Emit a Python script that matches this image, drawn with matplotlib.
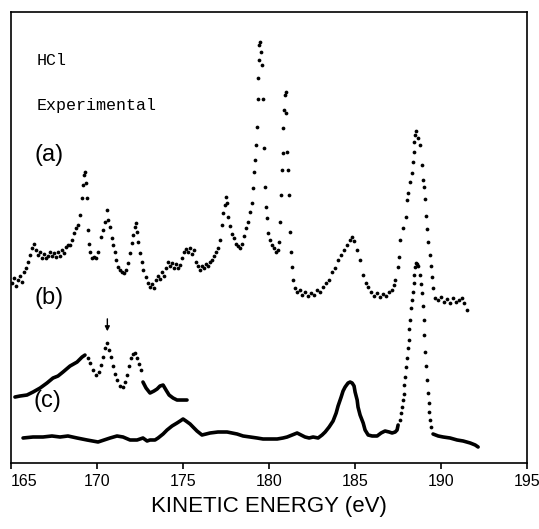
import matplotlib
matplotlib.use("Agg")
import matplotlib.pyplot as plt
import numpy as np

# ---- data (kinetic energy in eV, intensity in arbitrary units) ----
# (a) experimental, plotted as dots
a_energy = [165.06, 165.17, 165.29, 165.41, 165.52, 165.64, 165.76, 165.87, 165.99, 166.10,
            166.22, 166.34, 166.45, 166.57, 166.69, 166.80, 166.92, 167.03, 167.15, 167.27,
            167.38, 167.50, 167.62, 167.73, 167.85, 167.97, 168.08, 168.20, 168.31, 168.43,
            168.55, 168.66, 168.78, 168.90, 169.01, 169.13, 169.19, 169.24, 169.30, 169.36,
            169.42, 169.48, 169.53, 169.59, 169.71, 169.83, 169.94, 170.06, 170.23, 170.35,
            170.47, 170.58, 170.64, 170.76, 170.87, 170.93, 171.05, 171.10, 171.22, 171.34,
            171.45, 171.57, 171.69, 171.80, 171.92, 172.03, 172.09, 172.21, 172.27, 172.33,
            172.38, 172.50, 172.62, 172.67, 172.85, 172.97, 173.08, 173.20, 173.31, 173.43,
            173.55, 173.66, 173.78, 173.90, 174.01, 174.13, 174.24, 174.36, 174.48, 174.59,
            174.71, 174.83, 174.94, 175.06, 175.17, 175.29, 175.41, 175.52, 175.64, 175.76,
            175.87, 175.99, 176.10, 176.22, 176.34, 176.45, 176.57, 176.69, 176.80, 176.92,
            177.03, 177.15, 177.27, 177.33, 177.44, 177.50, 177.56, 177.62, 177.73, 177.85,
            177.97, 178.08, 178.20, 178.31, 178.43, 178.55, 178.66, 178.78, 178.90, 179.01,
            179.07, 179.13, 179.19, 179.24, 179.30, 179.33, 179.36, 179.39, 179.42, 179.45,
            179.53, 179.59, 179.65, 179.68, 179.77, 179.83, 179.88, 179.94, 180.06, 180.17,
            180.29, 180.41, 180.52, 180.58, 180.64, 180.70, 180.76, 180.79, 180.81, 180.87,
            180.93, 180.96, 180.99, 181.05, 181.10, 181.16, 181.22, 181.28, 181.34, 181.40,
            181.51, 181.63, 181.80, 181.92, 182.09, 182.27, 182.44, 182.62, 182.79, 182.97,
            183.14, 183.31, 183.49, 183.66, 183.84, 184.01, 184.19, 184.36, 184.53, 184.71,
            184.83, 184.94, 185.12, 185.29, 185.47, 185.64, 185.76, 185.93, 186.10, 186.28,
            186.45, 186.63, 186.80, 186.98, 187.15, 187.27, 187.33, 187.50, 187.56, 187.62,
            187.79, 187.97, 188.02, 188.08, 188.20, 188.31, 188.37, 188.40, 188.43, 188.49,
            188.55, 188.66, 188.78, 188.90, 188.95, 189.01, 189.07, 189.13, 189.19, 189.24,
            189.36, 189.42, 189.48, 189.53, 189.65, 189.83, 190.00, 190.17, 190.35, 190.52,
            190.70, 190.87, 191.05, 191.22, 191.34, 191.51]
a_counts = [180, 185, 177, 183, 187, 181, 191, 195, 201, 208,
            215, 219, 213, 208, 211, 205, 209, 205, 207, 211,
            207, 210, 206, 211, 207, 213, 210, 216, 218, 218,
            223, 230, 235, 238, 248, 265, 278, 288, 291, 280,
            265, 233, 219, 211, 205, 206, 205, 211, 226, 233,
            241, 253, 243, 236, 225, 218, 211, 203, 196, 193,
            191, 190, 193, 200, 210, 220, 228, 236, 240, 231,
            221, 210, 201, 193, 186, 180, 176, 179, 175, 183,
            187, 184, 191, 187, 195, 201, 197, 200, 195, 199,
            195, 198, 205, 211, 214, 211, 215, 209, 213, 201,
            197, 193, 197, 195, 199, 197, 201, 203, 207, 211,
            215, 223, 238, 250, 258, 266, 260, 246, 237, 229,
            225, 219, 217, 215, 219, 227, 235, 241, 251, 260,
            275, 291, 303, 318, 336, 364, 385, 403, 418, 421,
            411, 398, 364, 315, 276, 256, 245, 230, 223, 218,
            215, 211, 213, 221, 241, 268, 293, 310, 335, 353,
            368, 371, 350, 311, 293, 268, 231, 211, 196, 183,
            175, 171, 173, 168, 171, 167, 170, 168, 173, 171,
            176, 180, 183, 191, 195, 203, 208, 213, 218, 223,
            226, 222, 213, 203, 188, 180, 176, 171, 167, 170,
            166, 169, 167, 171, 173, 178, 183, 196, 206, 223,
            235, 246, 263, 270, 281, 290, 301, 311, 321, 328,
            332, 325, 318, 298, 283, 276, 264, 247, 234, 221,
            208, 197, 186, 175, 165, 163, 166, 161, 164, 160,
            165, 161, 163, 165, 160, 153]

# (b) solid - dotted - solid
b1_energy = [165.23, 165.52, 165.93, 166.28, 166.69, 167.09, 167.44, 167.73, 168.02,
             168.43, 168.84, 169.13, 169.30]
b1_counts = [66, 67, 68, 71, 75, 80, 85, 87, 91, 97, 101, 106, 108]
b2_energy = [169.48, 169.59, 169.77, 169.94, 170.12, 170.23, 170.35, 170.47, 170.58,
             170.70, 170.81, 170.93, 171.05, 171.16, 171.34, 171.51, 171.63, 171.74,
             171.86, 171.98, 172.09, 172.21, 172.33, 172.44, 172.56]
b2_counts = [105, 100, 93, 88, 91, 98, 106, 115, 120, 113, 106, 97, 89, 83, 77, 76,
             81, 88, 97, 105, 109, 110, 105, 99, 93]
b3_energy = [172.67, 172.85, 173.08, 173.31, 173.49, 173.66, 173.84, 174.01, 174.19,
             174.42, 174.65, 174.94, 175.23]
b3_counts = [81, 75, 70, 72, 74, 77, 78, 73, 68, 65, 63, 63, 63]

# (c) solid - dotted - solid
c1_energy = [165.70, 166.28, 166.86, 167.38, 167.85, 168.31, 168.84, 169.42, 170.06,
             170.41, 170.76, 171.16, 171.51, 171.92, 172.33, 172.67, 172.91, 173.08,
             173.37, 173.55, 173.84, 174.07, 174.36, 174.65, 174.83, 175.00, 175.17,
             175.41, 175.58, 175.81, 176.10, 176.34, 176.57, 177.03, 177.56, 177.85,
             178.14, 178.49, 178.90, 179.30, 179.65, 180.06, 180.47, 180.81, 181.05,
             181.34, 181.63, 181.86, 182.09, 182.33, 182.56, 182.85, 183.08, 183.26,
             183.49, 183.72, 183.90, 184.01, 184.19, 184.30, 184.42, 184.59, 184.71,
             184.83, 184.94, 185.00, 185.12, 185.17, 185.29, 185.47, 185.58, 185.76,
             185.99, 186.28, 186.51, 186.74, 186.98, 187.15, 187.33, 187.44, 187.50]
c1_counts = [25, 26, 26, 27, 26, 27, 25, 23, 21, 23, 25, 27, 26, 23, 23, 25, 22, 23,
             23, 25, 29, 33, 37, 40, 42, 44, 42, 39, 36, 32, 28, 29, 30, 31, 31, 30,
             29, 27, 26, 25, 24, 24, 24, 25, 26, 28, 30, 28, 26, 25, 26, 25, 28, 31,
             36, 42, 50, 57, 66, 72, 76, 80, 81, 80, 77, 71, 63, 56, 48, 40, 33, 28,
             27, 27, 30, 32, 31, 30, 31, 33, 38]
c2_energy = [187.62, 187.67, 187.73, 187.79, 187.82, 187.85, 187.91, 187.97, 188.02,
             188.08, 188.11, 188.14, 188.20, 188.26, 188.31, 188.37, 188.40, 188.43,
             188.49, 188.55, 188.60, 188.66, 188.78, 188.84, 188.90, 188.95, 188.98,
             189.01, 189.07, 189.13, 189.19, 189.24, 189.27, 189.30, 189.36, 189.42]
c2_counts = [43, 50, 56, 63, 69, 78, 86, 96, 105, 115, 123, 134, 143, 155, 163, 171,
             180, 188, 196, 200, 199, 197, 188, 179, 170, 157, 143, 128, 111, 97, 83,
             70, 60, 51, 43, 36]
c3_energy = [189.53, 189.83, 190.12, 190.52, 190.93, 191.28, 191.69, 191.98, 192.15]
c3_counts = [29, 27, 26, 25, 23, 22, 20, 18, 16]

xticks = [165, 170, 175, 180, 185, 190, 195]

sans = ['Liberation Sans', 'DejaVu Sans']
mono = ['Liberation Mono', 'DejaVu Sans Mono']

fig = plt.figure(figsize=(5.39, 5.29), dpi=100)
ax = fig.add_axes([0.0204, 0.1248, 0.9576, 0.852])

dot = dict(linestyle='none', marker='o', markersize=2.7, color='black', markeredgewidth=0)
ax.plot(a_energy, a_counts, **dot)

ax.plot(b1_energy, b1_counts, color='black', lw=2.6, solid_capstyle='round')
ax.plot(b2_energy, b2_counts, **dot)
ax.plot(b3_energy, b3_counts, color='black', lw=2.6, solid_capstyle='round')

ax.plot(c1_energy, c1_counts, color='black', lw=2.6, solid_capstyle='round')
ax.plot(c2_energy, c2_counts, **dot)
ax.plot(c3_energy, c3_counts, color='black', lw=2.6, solid_capstyle='round')

# arrow above the (b) peak
ax.annotate('', xy=(170.6, 129), xytext=(170.6, 147),
            arrowprops=dict(arrowstyle='-|>', color='black', lw=1.0,
                            mutation_scale=7))

ax.text(166.5, 403, 'HCl', family=mono, fontsize=12, va='center', ha='left')
ax.text(166.5, 358, 'Experimental', family=mono, fontsize=12, va='center', ha='left')
ax.text(167.2, 308, '(a)', family=sans, fontsize=17, va='center', ha='center')
ax.text(167.2, 165, '(b)', family=sans, fontsize=17, va='center', ha='center')
ax.text(167.1, 62, '(c)', family=sans, fontsize=17, va='center', ha='center')

ax.set_xlim(165, 195)
ax.set_ylim(0, 451)
ax.set_xticks(xticks)
ax.set_xticklabels([str(t) for t in xticks], family=sans, fontsize=11.5)
ax.get_xticklabels()[0].set_horizontalalignment('left')
ax.set_yticks([])
ax.tick_params(axis='x', direction='out', length=4, width=1.2, pad=4)
for s in ax.spines.values():
    s.set_linewidth(1.2)

ax.set_xlabel('KINETIC ENERGY (eV)', family=sans, fontsize=16, labelpad=5)

fig.savefig('out.png', dpi=100)
